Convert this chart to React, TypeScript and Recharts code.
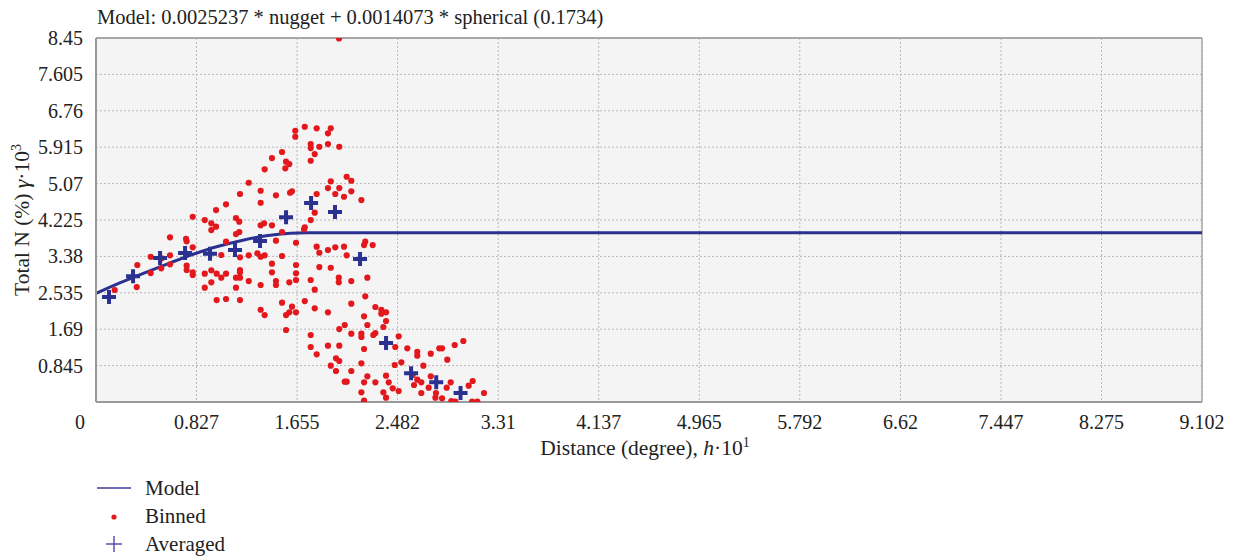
import React from 'react';
import {
  ComposedChart,
  Line,
  Scatter,
  XAxis,
  YAxis,
  CartesianGrid,
  ReferenceLine,
  Label,
} from 'recharts';

const FONT = '"Liberation Serif", "DejaVu Serif", serif';
const BLUE = '#2b3191';
const RED = '#e3181d';

// axis ticks
const xTicks = [0, 0.827, 1.655, 2.482, 3.31, 4.137, 4.965, 5.792, 6.62, 7.447, 8.275, 9.102];
const xTickLabels = ['0', '0.827', '1.655', '2.482', '3.31', '4.137', '4.965', '5.792', '6.62', '7.447', '8.275', '9.102'];
const yTicks = [0, 0.845, 1.69, 2.535, 3.38, 4.225, 5.07, 5.915, 6.76, 7.605, 8.45];
const yTickLabels = ['', '0.845', '1.69', '2.535', '3.38', '4.225', '5.07', '5.915', '6.76', '7.605', '8.45'];

// fitted model curve
const modelH = [0, 0.2, 0.4, 0.6, 0.8, 1.0, 1.2, 1.4, 1.6, 1.734, 9.102];
const modelY = [2.52, 2.77, 3.0, 3.22, 3.43, 3.61, 3.75, 3.86, 3.92, 3.93, 3.93];

// averaged semivariance (crosses)
const avgH = [0.107, 0.305, 0.527, 0.733, 0.938, 1.144, 1.35, 1.564, 1.77, 1.967, 2.173, 2.387, 2.593, 2.8, 3.0];
const avgY = [2.44, 2.92, 3.34, 3.46, 3.44, 3.53, 3.74, 4.29, 4.62, 4.41, 3.32, 1.37, 0.67, 0.46, 0.21];

// binned pairs (red dots)
const binnedH = [
  1.64, 1.64, 1.531, 1.448, 1.564, 1.591, 1.558, 1.388, 1.257, 1.355, 1.185, 1.481, 1.597, 1.613, 1.355, 1.07,
  0.988, 0.796, 0.895, 0.949, 0.988, 1.152, 1.179, 0.949, 1.355, 1.383, 1.448, 1.152, 1.179, 1.531, 0.609, 0.741,
  0.746, 1.07, 1.481, 1.646, 0.796, 0.609, 0.45, 1.031, 1.257, 1.328, 1.355, 1.388, 1.185, 1.531, 0.34, 0.154,
  0.335, 0.45, 0.537, 0.541, 0.609, 0.746, 0.746, 0.796, 0.796, 0.895, 0.949, 0.993, 1.031, 1.07, 1.152, 1.185,
  1.185, 1.185, 0.895, 0.949, 1.152, 1.257, 1.355, 1.448, 1.448, 1.481, 1.481, 1.591, 1.646, 1.646, 1.646, 0.993,
  1.07, 1.185, 1.355, 1.388, 1.531, 1.564, 1.591, 1.613, 1.646, 1.564, 1.718, 1.816, 1.932, 1.909, 1.767, 1.767,
  1.838, 1.909, 2.002, 1.8, 1.767, 2.063, 2.101, 1.932, 1.909, 2.002, 1.816, 1.969, 2.041, 2.101, 2.184, 1.8,
  1.767, 1.718, 1.712, 1.816, 1.838, 1.909, 1.969, 2.041, 2.063, 2.206, 2.216, 2.277, 2.0, 1.838, 1.932, 1.767,
  1.998, 1.998, 2.101, 2.233, 1.8, 1.718, 1.8, 1.909, 2.101, 2.216, 2.299, 2.348, 2.348, 2.387, 2.206, 2.387,
  2.047, 2.002, 2.233, 2.365, 1.767, 2.101, 2.184, 2.184, 2.282, 2.299, 2.491, 1.767, 1.909, 2.002, 2.206, 1.816,
  2.463, 2.562, 2.644, 2.644, 2.755, 2.825, 2.848, 2.952, 3.023, 2.891, 1.975, 2.002, 1.932, 2.184, 2.458, 2.513,
  1.975, 2.101, 2.233, 2.387, 2.606, 2.694, 2.755, 2.047, 2.063, 2.206, 2.299, 2.409, 2.644, 2.677, 2.442, 2.491,
  2.617, 2.738, 2.919, 3.1, 2.184, 2.365, 2.387, 2.677, 2.798, 2.793, 2.848, 2.886, 3.067, 3.193, 2.206, 2.924,
  2.957, 3.095, 3.138,
];
const binnedY = [
  6.297, 6.158, 5.803, 5.663, 5.578, 5.524, 5.424, 5.401, 5.09, 4.904, 4.828, 4.797, 4.858, 4.89, 4.626, 4.589,
  4.456, 4.301, 4.224, 4.148, 4.069, 4.271, 4.185, 3.992, 4.101, 4.148, 4.101, 3.899, 3.946, 3.946, 3.823, 3.79,
  3.73, 3.721, 3.744, 3.697, 3.591, 3.405, 3.372, 3.412, 3.405, 3.451, 3.372, 3.405, 3.358, 3.389, 3.18, 2.6,
  2.669, 2.994, 3.103, 3.335, 3.196, 3.164, 3.064, 3.01, 2.948, 2.978, 3.057, 2.978, 2.885, 2.978, 2.885, 3.064,
  3.01, 2.885, 2.653, 2.778, 2.653, 2.808, 2.716, 3.21, 3.01, 2.808, 2.716, 2.778, 3.18, 2.987, 2.832, 2.367,
  2.391, 2.367, 2.142, 2.019, 2.305, 2.019, 2.082, 2.212, 2.082, 1.671, 6.39, 6.353, 6.353, 6.237, 5.988, 5.895,
  5.926, 5.988, 5.926, 5.756, 5.601, 5.229, 5.136, 5.122, 4.967, 4.967, 4.828, 4.828, 4.765, 4.89, 4.688, 4.394,
  4.224, 4.055, 4.008, 3.605, 3.465, 3.528, 3.591, 3.605, 3.405, 3.644, 3.721, 3.644, 8.44, 3.133, 3.117, 2.832,
  2.885, 2.778, 2.808, 2.885, 2.607, 2.344, 2.175, 2.082, 2.282, 2.453, 2.205, 2.142, 2.049, 2.082, 1.989, 1.88,
  1.787, 1.694, 1.787, 1.741, 1.555, 1.585, 1.585, 1.509, 1.555, 1.601, 1.525, 1.277, 1.307, 1.307, 1.23, 1.107,
  1.277, 1.246, 1.167, 1.075, 1.121, 1.246, 1.246, 1.323, 1.416, 0.982, 1.014, 0.952, 0.843, 0.898, 0.859, 0.921,
  0.72, 0.72, 0.596, 0.61, 0.627, 0.843, 0.596, 0.471, 0.471, 0.457, 0.457, 0.457, 0.518, 0.457, 0.318, 0.255,
  0.395, 0.332, 0.457, 0.487, 0.225, 0.225, 0.1, 0.209, 0.209, 0.1, 0.086, 0.332, 0.378, 0.209, 0.03, 0.023,
  0.01, 0.01, 0.01,
];

const modelData = modelH.map((h, i) => ({ h, y: modelY[i] }));
const avgData = avgH.map((h, i) => ({ h, y: avgY[i] }));
const binnedData = binnedH.map((h, i) => ({ h, y: binnedY[i] }));

const Cross = (props: any) => {
  const { cx, cy } = props;
  if (cx == null || cy == null) return null;
  return (
    <path
      d={`M${cx - 7},${cy}H${cx + 7}M${cx},${cy - 7}V${cy + 7}`}
      stroke={BLUE}
      strokeWidth={4}
    />
  );
};

const Dot = (props: any) => {
  const { cx, cy } = props;
  if (cx == null || cy == null) return null;
  return <circle cx={cx} cy={cy} r={3.1} fill={RED} />;
};

const XTick = (props: any) => {
  const { x, y, payload, index } = props;
  const label = xTickLabels[index] ?? String(payload.value);
  return (
    <text
      x={payload.value === 0 ? x - 16 : x}
      y={y + 25}
      textAnchor="middle"
      fill="#222"
      fontSize={20}
      fontFamily={FONT}
    >
      {label}
    </text>
  );
};

const YTick = (props: any) => {
  const { x, y, index } = props;
  return (
    <text x={x - 11} y={y + 7} textAnchor="end" fill="#222" fontSize={20} fontFamily={FONT}>
      {yTickLabels[index]}
    </text>
  );
};

const XLabel = (props: any) => {
  const vb = props.viewBox || {};
  const cx = vb.x + vb.width / 2;
  return (
    <text x={cx - 4} y={vb.y + 53} textAnchor="middle" fill="#222" fontSize={21.5} fontFamily={FONT}>
      Distance (degree), <tspan fontStyle="italic">h</tspan>·10
      <tspan dy={-8} fontSize={14}>1</tspan>
    </text>
  );
};

const YLabel = (props: any) => {
  const vb = props.viewBox || {};
  const cy = vb.y + vb.height / 2;
  const x = 29;
  return (
    <text
      x={x}
      y={cy}
      transform={`rotate(-90, ${x}, ${cy})`}
      textAnchor="middle"
      fill="#222"
      fontSize={21.5}
      fontFamily={FONT}
    >
      Total N (%) <tspan fontStyle="italic">γ</tspan>·10
      <tspan dy={-8} fontSize={14}>3</tspan>
    </text>
  );
};

export default function App() {
  return (
    <div style={{ position: 'absolute', left: 0, top: 0, width: 1235, height: 558, background: '#fff' }}>
      <ComposedChart
        width={1235}
        height={558}
        margin={{ top: 38, right: 33, bottom: 116, left: 0 }}
      >
        <CartesianGrid
          fill="#f4f4f4"
          stroke="#b8b8b8"
          strokeDasharray="2 2"
          horizontalValues={yTicks}
          verticalValues={xTicks}
        />
        <XAxis
          type="number"
          dataKey="h"
          domain={[0, 9.102]}
          ticks={xTicks}
          interval={0}
          tickLine={false}
          tickSize={0}
          axisLine={{ stroke: '#9a9a9a', strokeWidth: 2 }}
          tick={<XTick />}
          height={40}
          allowDataOverflow
        >
          <Label content={<XLabel />} />
        </XAxis>
        <YAxis
          type="number"
          dataKey="y"
          domain={[0, 8.45]}
          ticks={yTicks}
          interval={0}
          tickLine={false}
          tickSize={0}
          axisLine={{ stroke: '#9a9a9a', strokeWidth: 2 }}
          tick={<YTick />}
          width={96}
          allowDataOverflow
        >
          <Label content={<YLabel />} />
        </YAxis>
        <ReferenceLine y={8.45} stroke="#a8a8a8" strokeWidth={2} />
        <ReferenceLine x={9.102} stroke="#a8a8a8" strokeWidth={1.5} />
        <Scatter data={binnedData} dataKey="y" shape={<Dot />} isAnimationActive={false} />
        <Line
          data={modelData}
          dataKey="y"
          type="monotone"
          stroke={BLUE}
          strokeWidth={3}
          dot={false}
          activeDot={false}
          isAnimationActive={false}
        />
        <Scatter data={avgData} dataKey="y" shape={<Cross />} isAnimationActive={false} />
      </ComposedChart>

      <div
        style={{
          position: 'absolute',
          left: 97,
          top: 6,
          fontFamily: FONT,
          fontSize: 20.5,
          color: '#222',
          whiteSpace: 'nowrap',
        }}
      >
        Model: 0.0025237 * nugget + 0.0014073 * spherical (0.1734)
      </div>

      <svg
        style={{ position: 'absolute', left: 0, top: 470 }}
        width={300}
        height={88}
        fontFamily={FONT}
      >
        <line x1={97} x2={131} y1={18} y2={18} stroke="#3d3a9c" strokeWidth={1.5} />
        <text x={145} y={25} fontSize={21} fill="#222">Model</text>
        <circle cx={114} cy={47} r={2.6} fill={RED} />
        <text x={145} y={53} fontSize={21} fill="#222">Binned</text>
        <path d="M106,74H122M114,66V82" stroke="#5a4fb0" strokeWidth={1.5} />
        <text x={145} y={81} fontSize={21} fill="#222">Averaged</text>
      </svg>
    </div>
  );
}
